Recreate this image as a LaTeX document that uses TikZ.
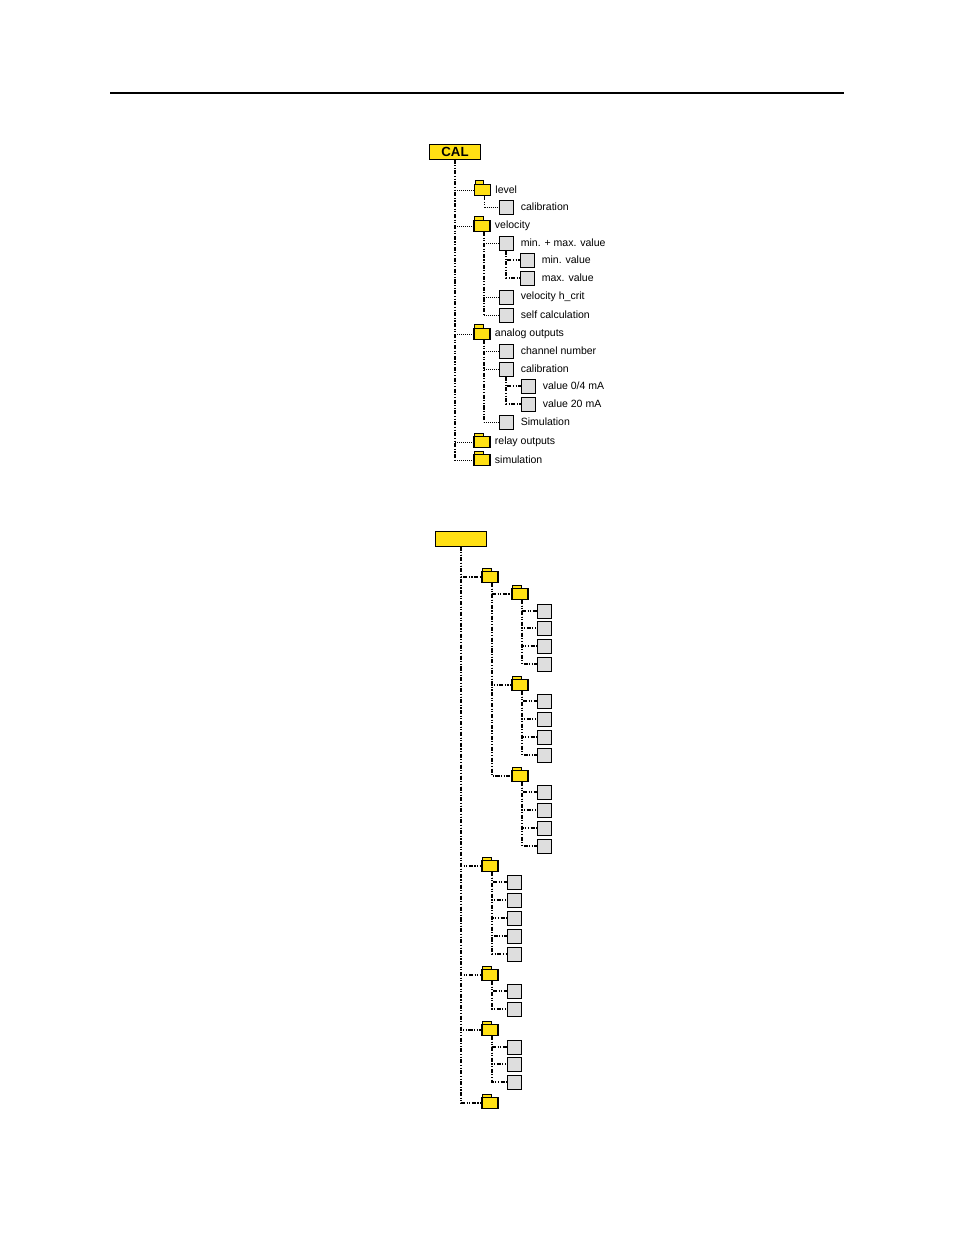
\documentclass[tikz,border=0pt]{standalone}
\usepackage{fontspec}
\setmainfont{Liberation Sans}
\usetikzlibrary{positioning}

\definecolor{folderyellow}{RGB}{255,224,20}
\definecolor{boxgray}{RGB}{222,222,222}

\tikzset{
  link/.style={line width=0.8pt,dash pattern=on 2.6pt off 1pt on 0.7pt off 1pt on 0.7pt off 1pt},
  dotlink/.style={line width=0.6pt,dash pattern=on 0.6pt off 0.7pt},
  rootbox/.style={draw,fill=folderyellow,line width=0.6pt,minimum width=32.7pt,minimum height=9.6pt,inner sep=0pt},
  folder/.style={draw,fill=folderyellow,line width=0.7pt,minimum width=10.3pt,minimum height=7pt,inner sep=0pt,
    label={[tab]north west:{}}},
  tab/.style={draw,fill=folderyellow,line width=0.45pt,minimum width=5.4pt,minimum height=2pt,inner sep=0pt,
    anchor=south west,xshift=0.6pt,yshift=-0.2pt},
  item/.style={draw,fill=boxgray,line width=0.6pt,minimum size=9pt,inner sep=0pt},
  every label/.style={font=\fontsize{6.75}{8}\selectfont,inner sep=0pt},
  ftext/.style={label={[label distance=2.6pt]right:#1}},
  btext/.style={label={[label distance=4.5pt]right:#1}},
}

\begin{document}
\begin{tikzpicture}[x=0.6415pt,y=-0.6415pt]
  \useasboundingbox (0,0) rectangle (954,1235);
  \draw[line width=0.9pt] (110,93) -- (844,93);

  % menu with texts
  \node[rootbox,font=\fontsize{8.5}{10}\selectfont\bfseries] (cal) at (455,151.5) {CAL};
  \node[folder,ftext=level] (level) at (482.5,190) {};
  \node[item,btext=calibration] (levcal) at (506,207) {};
  \node[folder,ftext=velocity] (velo) at (482,226) {};
  \node[item,btext=min. + max. value] (minmax) at (506,243) {};
  \node[item,btext=min. value] (minv) at (527,260) {};
  \node[item,btext=max. value] (maxv) at (527,278) {};
  \node[item,btext=velocity h\_crit] (hcrit) at (506,297) {};
  \node[item,btext=self calculation] (selfcal) at (506,315) {};
  \node[folder,ftext=analog outputs] (analog) at (482,334) {};
  \node[item,btext=channel number] (chan) at (506,351) {};
  \node[item,btext=calibration] (anacal) at (506,369) {};
  \node[item,btext=value 0/4 mA] (vlow) at (528,386) {};
  \node[item,btext=value 20 mA] (vhigh) at (528,404) {};
  \node[item,btext=Simulation] (anasim) at (506,422) {};
  \node[folder,ftext=relay outputs] (relay) at (482,442) {};
  \node[folder,ftext=simulation] (simul) at (482,460) {};

  \draw[link] (cal.south) -- (cal.south |- simul.west);
  \foreach \f in {level,velo,analog,relay,simul}
    \draw[dotlink] (cal.south |- \f.west) -- (\f.west);
  \draw[link] ([xshift=1.3pt]level.south) -- ([xshift=1.3pt]level.south |- levcal.west);
  \draw[dotlink] ([xshift=1.3pt]level.south |- levcal.west) -- (levcal.west);
  \draw[link] ([xshift=1.3pt]velo.south) -- ([xshift=1.3pt]velo.south |- selfcal.west);
  \foreach \b in {minmax,hcrit,selfcal}
    \draw[dotlink] ([xshift=1.3pt]velo.south |- \b.west) -- (\b.west);
  \draw[link] (minmax.south) |- (minv.west);
  \draw[link] (minmax.south) |- (maxv.west);
  \draw[link] ([xshift=1.3pt]analog.south) -- ([xshift=1.3pt]analog.south |- anasim.west);
  \foreach \b in {chan,anacal,anasim}
    \draw[dotlink] ([xshift=1.3pt]analog.south |- \b.west) -- (\b.west);
  \draw[link] (anacal.south) |- (vlow.west);
  \draw[link] (anacal.south) |- (vhigh.west);

  % menu without texts
  \node[rootbox] (root) at (461,538.5) {};
  \node[folder] (fa) at (490,577) {};
  \node[folder] (fa1) at (520,594) {};
  \foreach \y [count=\i] in {611,628,646,664}
    \node[item] (fa1b\i) at (544,\y) {};
  \node[folder] (fa2) at (520,685) {};
  \foreach \y [count=\i] in {701,719,737,755}
    \node[item] (fa2b\i) at (544,\y) {};
  \node[folder] (fa3) at (520,776) {};
  \foreach \y [count=\i] in {792,810,828,846}
    \node[item] (fa3b\i) at (544,\y) {};
  \node[folder] (fb) at (490,866) {};
  \foreach \y [count=\i] in {882,900,918,936,954}
    \node[item] (fbb\i) at (514,\y) {};
  \node[folder] (fc) at (490,975) {};
  \foreach \y [count=\i] in {991,1009}
    \node[item] (fcb\i) at (514,\y) {};
  \node[folder] (fd) at (490,1030) {};
  \foreach \y [count=\i] in {1047,1064,1082}
    \node[item] (fdb\i) at (514,\y) {};
  \node[folder] (fe) at (490,1103) {};

  \foreach \f in {fa,fb,fc,fd,fe}
    \draw[link] (root.south) |- (\f.west);
  \foreach \f in {fa1,fa2,fa3}
    \draw[link] ([xshift=1.3pt]fa.south) |- (\f.west);
  \foreach \i in {1,...,4} {
    \draw[link] ([xshift=1.3pt]fa1.south) |- (fa1b\i.west);
    \draw[link] ([xshift=1.3pt]fa2.south) |- (fa2b\i.west);
    \draw[link] ([xshift=1.3pt]fa3.south) |- (fa3b\i.west);
  }
  \foreach \i in {1,...,5}
    \draw[link] ([xshift=1.3pt]fb.south) |- (fbb\i.west);
  \foreach \i in {1,2}
    \draw[link] ([xshift=1.3pt]fc.south) |- (fcb\i.west);
  \foreach \i in {1,2,3}
    \draw[link] ([xshift=1.3pt]fd.south) |- (fdb\i.west);
\end{tikzpicture}
\end{document}
